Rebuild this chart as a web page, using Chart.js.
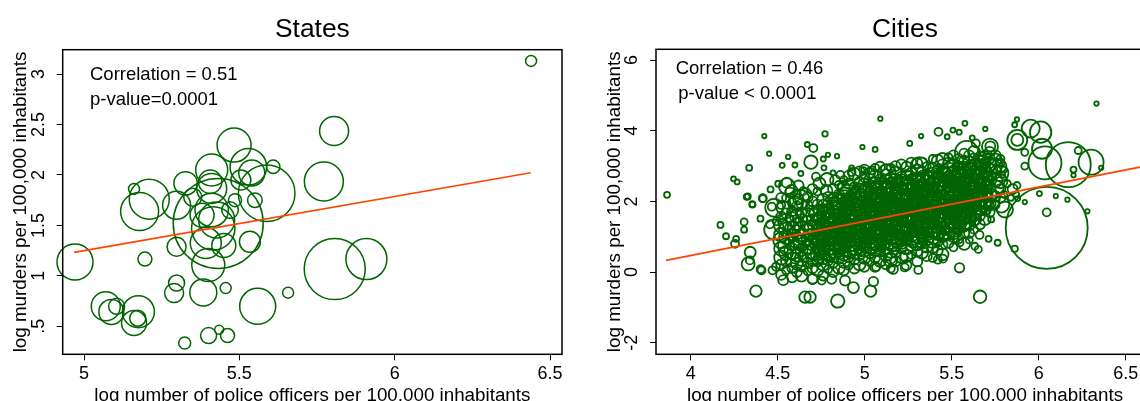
<!DOCTYPE html>
<html>
<head>
<meta charset="utf-8">
<script src="https://cdn.jsdelivr.net/npm/chart.js@4.4.0/dist/chart.umd.min.js"></script>
<style>
html, body { margin: 0; padding: 0; background: #fff; overflow: hidden; }
#wrap { position: relative; width: 1140px; height: 401px; overflow: hidden; }
#statesChart { position: absolute; left: 0; top: 0; }
#citiesChart { position: absolute; left: 570px; top: 0; }
</style>
</head>
<body>
<div id="wrap">
<canvas id="statesChart" width="570" height="401"></canvas>
<canvas id="citiesChart" width="600" height="401"></canvas>
</div>
<script>
// States panel: one bubble per state (x = log police, y = log murders, r = weight)
const stateX = [6.439, 5.805, 5.483, 5.772, 5.807, 5.909, 4.971, 5.559, 5.657, 5.456,
                5.384, 5.298, 5.290, 5.196, 5.298, 5.534, 5.400, 5.392, 5.432, 5.070,
                5.088, 5.105, 5.175, 5.161, 5.173, 5.324, 5.401, 5.435, 5.462, 5.161,
                5.179, 5.210, 5.298, 5.327, 5.411, 5.406, 5.529, 5.609, 5.588, 5.550,
                5.411, 5.427, 5.416, 5.486, 5.470, 5.411, 5.540, 5.505, 5.350, 5.380, 5.450];
const stateY = [3.13, 2.436, 2.296, 1.935, 1.067, 1.166, 1.137, 0.698, 0.833, 0.879,
                0.836, 0.929, 0.83, 1.166, 1.288, 1.338, 1.107, 1.325, 1.52, 0.698,
                0.642, 0.698, 0.645, 0.533, 0.58, 0.335, 0.408, 0.467, 0.408, 1.862,
                1.638, 1.760, 1.700, 1.917, 2.049, 1.933, 2.081, 2.081, 1.818, 1.750,
                1.652, 1.553, 1.471, 1.750, 1.652, 1.867, 2.020, 1.950, 1.780, 1.600, 1.300];
const stateR = [5.5, 14.5, 17, 19.5, 30.5, 20.5, 18, 18, 5.5, 5.5,
                13.5, 8, 9.5, 7, 9.5, 10.5, 16.5, 15.5, 45, 14.5,
                12.5, 8, 16, 12.5, 8, 6, 8, 4.5, 7, 5.5,
                19, 20, 14, 11.7, 16, 11.7, 18.3, 6.7, 28.3, 7.3,
                16.7, 18, 21.7, 6.5, 8.3, 15, 13, 10, 9, 12, 12];
const stateFitX = [4.968, 6.438];
const stateFitY = [1.233, 2.022];
const stateXTicks = [5, 5.5, 6, 6.5];
const stateXLabels = ['5', '5.5', '6', '6.5'];
const stateYTicks = [0.5, 1, 1.5, 2, 2.5, 3];
const stateYLabels = ['.5', '1', '1.5', '2', '2.5', '3'];

// Cities panel: scattered cities read one by one
const cityX = [3.864, 4.171, 4.203, 4.261, 4.255, 4.246, 4.267, 4.328, 4.355, 4.307,
               4.307, 4.336, 4.423, 4.451, 4.415, 4.459, 4.401, 4.342, 4.33, 4.375,
               4.407, 4.34, 4.402, 4.526, 4.56, 4.599, 4.633, 4.67, 4.705, 4.691,
               4.772, 4.762, 4.789, 4.841, 4.818, 4.766, 4.925, 4.925, 4.881, 4.783,
               4.657, 4.686, 4.845, 4.935, 5.034, 5.05, 5.545, 5.663, 4.987, 5.06,
               5.09, 5.04, 4.994, 5.259, 5.324, 5.424, 5.474, 5.507, 5.543, 5.576,
               5.693, 5.618, 5.639, 5.722, 5.875, 5.862, 5.877, 5.877, 5.954, 6.011,
               6.019, 6.036, 6.17, 6.301, 6.227, 6.2, 6.2, 6.332, 6.359, 6.046,
               6.046, 5.862, 6.28, 6.165, 6.098, 6.004, 5.92, 5.879, 5.875, 5.92,
               5.92, 5.806, 5.727, 5.764, 5.712, 5.66, 5.633, 5.653, 5.601, 5.548,
               5.42, 5.45, 5.308, 6.61, 4.887, 4.753, 4.701, 4.532, 4.81, 5.164,
               5.23, 5.065, 4.47, 4.49, 4.552, 4.571, 4.618, 4.647, 4.532, 4.466,
               4.414, 4.354, 4.322, 4.503, 4.456, 4.494, 4.571, 4.628, 5.586, 5.72,
               5.78, 5.8, 5.79, 5.82, 5.85, 5.87, 5.84, 5.8, 4.553, 4.626,
               4.48, 5.127, 4.96, 5.545, 5.712, 5.785, 5.597, 5.315, 5.148, 4.48,
               4.58, 4.62, 4.66, 4.70, 4.74, 4.60, 4.52, 4.78, 4.83, 4.86, 4.72];
const cityY = [2.185, 1.335, 1.014, 0.94, 0.80, 2.64, 2.55, 2.14, 1.91, 1.42,
               1.20, 2.95, 3.85, 3.35, 2.08, 2.34, 1.51, 0.56, 0.23, -0.54,
               0.05, 0.33, 0.08, 3.02, 3.26, 3.03, 2.79, 3.61, 3.51, 3.11,
               3.91, 3.2, 3.32, 3.28, 2.81, 2.95, 2.83, 2.95, 2.52, 2.62,
               -0.71, -0.71, -0.82, -0.44, -0.54, -0.27, 0.12, -0.70, 3.54, 3.47,
               4.34, 2.88, 2.9, 3.64, 3.85, 3.97, 3.83, 4.02, 3.96, 4.21,
               4.05, 3.80, 3.64, 3.56, 4.32, 4.17, 3.74, 3.74, 4.06, 3.96,
               3.49, 3.09, 3.04, 3.11, 3.44, 2.9, 2.74, 4.77, 2.95, 1.25,
               1.69, 0.66, 1.72, 2.05, 2.15, 2.22, 1.98, 2.08, 2.45, 3.0,
               3.39, 1.77, 1.49, 0.83, 0.94, 1.05, 0.73, 0.64, 0.91, 0.83,
               0.35, 0.38, 0.06, 2.47, -0.24, -0.24, -0.19, -0.23, -0.2, 0.08,
               0.13, 0.14, 0.05, 0.15, 2.53, 2.25, 2.06, 2.29, 1.82, 1.85,
               2.09, 1.92, 2.13, 2.5, 1.35, 1.44, 1.51, 1.63, 3.38, 3.55,
               3.1, 2.9, 2.75, 2.5, 2.35, 2.2, 2.1, 2.2, 2.43, 2.05,
               1.82, 2.8, 2.05, 1.58, 2.05, 1.91, 2.43, 3.0, 0.35, 1.2,
               2.3, 2.45, 2.2, 2.35, 2.5, 1.95, 2.1, 2.3, 2.6, 2.75, 2.7];
const cityR = [3, 3, 3, 3, 4, 2.5, 2.5, 3, 3, 3.5,
               3, 3, 2.2, 2.2, 3.5, 3, 3, 5.5, 6.5, 5.7,
               4, 4, 4, 2.5, 2.2, 2.5, 2.5, 2.5, 4, 6.7,
               2.7, 2.5, 2.2, 2.2, 2.5, 2.5, 4, 2.5, 2.5, 6.5,
               5.7, 5.7, 6.7, 5.5, 5.7, 4.7, 4.7, 6.3, 2.2, 2.5,
               2.2, 4, 2.5, 2.5, 2.2, 4, 2.5, 2.5, 2.5, 2.5,
               2.2, 2.5, 4, 5, 2.2, 2.5, 10, 6, 9, 10.7,
               10, 16.5, 22.5, 12.5, 3.5, 3, 2.2, 2.2, 2.2, 41,
               4, 3.2, 2.2, 2.2, 2.2, 2.5, 2.2, 2.5, 3.5, 3.5,
               3.5, 8, 3, 3, 3, 4, 3.5, 3.5, 3.5, 3.5,
               4, 4, 4, 4, 5, 4, 5, 5, 4.7, 4.7,
               4, 4, 4, 4, 5, 5, 5, 4, 6.7, 4,
               4, 3, 3, 3, 4, 4, 3.5, 4, 11.7, 8,
               4, 3, 3, 3.5, 5, 3, 3, 3.5, 8, 10,
               9, 9, 12, 16, 11, 8, 9, 9, 7, 10,
               6, 5, 6, 5, 6, 7, 5, 6, 5, 4, 4];

// Cities panel: the dense core, read column by column (x of column, y and r of its circles)
const cloudCols = [4.52, 4.548, 4.583, 4.61, 4.637, 4.672, 4.70, 4.728, 4.761, 4.79,
                   4.818, 4.852, 4.88, 4.907, 4.941, 4.97, 4.998, 5.031, 5.06, 5.088,
                   5.122, 5.15, 5.177, 5.211, 5.24, 5.268, 5.302, 5.33, 5.357, 5.391,
                   5.42, 5.447, 5.481, 5.51, 5.538, 5.572, 5.60, 5.628, 5.662, 5.69,
                   5.718, 5.752, 5.78,
                   4.735, 4.795, 4.855, 4.915, 4.975, 5.035, 5.095, 5.155, 5.215, 5.275,
                   5.335, 5.395, 5.455, 5.515, 5.575, 5.635, 5.695,
                   4.765, 4.825, 4.885, 4.945, 5.005, 5.065, 5.125, 5.185, 5.245, 5.305,
                   5.365, 5.425, 5.485, 5.545, 5.605, 5.665];
const cloudY = [
  [-0.08, 0.22, 0.41, 0.66, 0.9, 1.06, 1.31, 1.57, 1.9],
  [0.05, 0.3, 0.54, 0.73, 0.99, 1.2, 1.42, 1.66, 2.1],
  [-0.15, 0.12, 0.36, 0.58, 0.81, 1.03, 1.24, 1.5, 1.72, 1.98],
  [0.0, 0.24, 0.47, 0.71, 0.9, 1.13, 1.36, 1.58, 1.86, 2.2],
  [-0.1, 0.16, 0.37, 0.62, 0.83, 1.0, 1.23, 1.46, 1.69, 1.93],
  [0.02, 0.27, 0.51, 0.72, 0.94, 1.15, 1.39, 1.61, 1.88, 2.12],
  [-0.2, 0.11, 0.35, 0.57, 0.81, 1.03, 1.26, 1.47, 1.73, 2.0],
  [0.06, 0.3, 0.53, 0.76, 0.95, 1.19, 1.41, 1.64, 1.91, 2.28],
  [-0.1, 0.21, 0.42, 0.66, 0.88, 1.11, 1.33, 1.56, 1.79, 2.05],
  [0.08, 0.33, 0.55, 0.79, 1.0, 1.23, 1.45, 1.71, 1.95, 2.13],
  [0.0, 0.26, 0.48, 0.71, 0.93, 1.14, 1.38, 1.61, 1.84, 2.1, 2.36],
  [0.12, 0.37, 0.61, 0.82, 1.06, 1.28, 1.5, 1.73, 1.96, 2.2, 2.47],
  [0.05, 0.29, 0.52, 0.75, 0.97, 1.21, 1.43, 1.65, 1.89, 2.12, 2.38, 2.6],
  [0.18, 0.42, 0.66, 0.87, 1.11, 1.32, 1.56, 1.78, 2.01, 2.25, 2.5, 2.72],
  [0.1, 0.35, 0.57, 0.81, 1.02, 1.26, 1.48, 1.71, 1.92, 2.16, 2.4, 2.78],
  [0.22, 0.47, 0.7, 0.93, 1.15, 1.37, 1.6, 1.83, 2.05, 2.31, 2.55, 2.85],
  [0.15, 0.4, 0.63, 0.85, 1.08, 1.31, 1.52, 1.76, 1.98, 2.21, 2.45, 2.69, 2.9],
  [0.28, 0.53, 0.75, 0.98, 1.21, 1.42, 1.66, 1.88, 2.11, 2.35, 2.6, 2.81],
  [0.15, 0.41, 0.65, 0.87, 1.1, 1.33, 1.55, 1.78, 2.01, 2.22, 2.48, 2.72, 2.95],
  [0.32, 0.57, 0.8, 1.03, 1.25, 1.47, 1.71, 1.92, 2.16, 2.38, 2.62, 2.98],
  [0.22, 0.48, 0.71, 0.95, 1.18, 1.41, 1.62, 1.86, 2.08, 2.31, 2.55, 2.77, 2.9],
  [0.1, 0.38, 0.63, 0.85, 1.07, 1.3, 1.53, 1.75, 1.99, 2.2, 2.43, 2.68, 2.95],
  [0.3, 0.55, 0.79, 1.0, 1.23, 1.45, 1.67, 1.9, 2.13, 2.35, 2.59, 2.82, 3.0],
  [0.42, 0.67, 0.9, 1.13, 1.35, 1.57, 1.8, 2.03, 2.25, 2.47, 2.7, 3.05],
  [0.2, 0.45, 0.7, 0.92, 1.16, 1.38, 1.6, 1.83, 2.05, 2.28, 2.51, 2.75, 2.98],
  [0.48, 0.74, 0.98, 1.21, 1.42, 1.65, 1.87, 2.1, 2.33, 2.55, 2.78, 3.1],
  [0.3, 0.58, 0.81, 1.05, 1.28, 1.5, 1.73, 1.95, 2.17, 2.4, 2.63, 2.88, 3.08],
  [0.55, 0.8, 1.03, 1.25, 1.47, 1.7, 1.93, 2.15, 2.38, 2.6, 2.84, 3.1],
  [0.45, 0.72, 0.95, 1.17, 1.4, 1.63, 1.85, 2.07, 2.3, 2.53, 2.75, 3.0],
  [0.4, 0.68, 0.91, 1.15, 1.38, 1.6, 1.83, 2.05, 2.27, 2.5, 2.73, 2.95, 3.2],
  [0.62, 0.87, 1.1, 1.33, 1.55, 1.77, 2.0, 2.23, 2.45, 2.67, 2.9, 3.15],
  [0.5, 0.78, 1.02, 1.25, 1.47, 1.7, 1.93, 2.15, 2.37, 2.6, 2.83, 3.05, 3.2],
  [0.82, 1.07, 1.3, 1.53, 1.75, 1.97, 2.2, 2.43, 2.65, 2.87, 3.1, 3.25],
  [0.7, 0.98, 1.22, 1.45, 1.67, 1.9, 2.13, 2.35, 2.57, 2.8, 3.03, 3.3],
  [0.95, 1.2, 1.43, 1.65, 1.87, 2.1, 2.33, 2.55, 2.77, 3.0, 3.2],
  [0.8, 1.1, 1.35, 1.57, 1.8, 2.03, 2.25, 2.47, 2.7, 2.93, 3.15, 3.35],
  [1.1, 1.35, 1.58, 1.8, 2.03, 2.25, 2.47, 2.7, 2.92, 3.12, 3.3],
  [1.2, 1.45, 1.67, 1.9, 2.13, 2.35, 2.57, 2.8, 3.03, 3.22, 3.4],
  [1.35, 1.6, 1.83, 2.05, 2.27, 2.5, 2.73, 2.95, 3.15, 3.3],
  [1.5, 1.75, 1.97, 2.2, 2.43, 2.65, 2.87, 3.08, 3.25],
  [1.7, 1.95, 2.18, 2.4, 2.63, 2.85, 3.05, 3.22, 3.4],
  [1.9, 2.15, 2.37, 2.6, 2.83, 3.02, 3.18, 3.3],
  [2.1, 2.35, 2.57, 2.8, 3.0, 3.2],
  [0.4, 0.64, 0.86, 1.07, 1.3, 1.52, 1.76],
  [0.45, 0.68, 0.9, 1.12, 1.34, 1.57, 1.8],
  [0.5, 0.72, 0.95, 1.17, 1.39, 1.62, 1.84, 2.08],
  [0.55, 0.78, 1.0, 1.22, 1.44, 1.66, 1.9, 2.13],
  [0.6, 0.82, 1.04, 1.27, 1.49, 1.71, 1.94, 2.18],
  [0.66, 0.88, 1.1, 1.32, 1.54, 1.77, 2.0, 2.22, 2.46],
  [0.7, 0.92, 1.15, 1.37, 1.6, 1.82, 2.04, 2.27, 2.5],
  [0.75, 0.98, 1.2, 1.42, 1.65, 1.87, 2.1, 2.32, 2.55],
  [0.8, 1.02, 1.25, 1.47, 1.7, 1.92, 2.14, 2.37, 2.6],
  [0.86, 1.08, 1.3, 1.52, 1.75, 1.97, 2.2, 2.42, 2.65],
  [0.9, 1.13, 1.35, 1.58, 1.8, 2.02, 2.25, 2.47, 2.7],
  [0.96, 1.18, 1.4, 1.63, 1.85, 2.08, 2.3, 2.52, 2.75],
  [1.02, 1.24, 1.46, 1.68, 1.9, 2.13, 2.35, 2.58, 2.8],
  [1.1, 1.32, 1.54, 1.76, 1.98, 2.2, 2.43, 2.65, 2.88],
  [1.3, 1.52, 1.74, 1.96, 2.18, 2.4, 2.62, 2.85],
  [1.5, 1.72, 1.94, 2.16, 2.38, 2.6, 2.82, 3.05],
  [1.75, 1.97, 2.2, 2.42, 2.64, 2.86, 3.08],
  [0.53, 0.76, 0.98, 1.2, 1.42, 1.65, 1.88],
  [0.58, 0.8, 1.03, 1.25, 1.47, 1.7, 1.93],
  [0.62, 0.85, 1.07, 1.3, 1.52, 1.74, 1.97, 2.2],
  [0.67, 0.9, 1.12, 1.35, 1.57, 1.8, 2.02, 2.25],
  [0.74, 0.97, 1.2, 1.42, 1.65, 1.87, 2.1, 2.33],
  [0.8, 1.03, 1.26, 1.48, 1.71, 1.93, 2.16, 2.38],
  [0.86, 1.09, 1.31, 1.53, 1.76, 1.98, 2.21, 2.43],
  [0.91, 1.14, 1.36, 1.59, 1.81, 2.04, 2.26, 2.49],
  [0.97, 1.2, 1.42, 1.64, 1.87, 2.09, 2.32, 2.54],
  [1.02, 1.25, 1.47, 1.7, 1.92, 2.15, 2.37, 2.6],
  [1.08, 1.3, 1.53, 1.75, 1.98, 2.2, 2.42, 2.65],
  [1.14, 1.36, 1.59, 1.81, 2.03, 2.26, 2.48, 2.7],
  [1.2, 1.42, 1.65, 1.87, 2.09, 2.32, 2.54, 2.77],
  [1.38, 1.6, 1.82, 2.05, 2.27, 2.5, 2.72, 2.94],
  [1.58, 1.8, 2.03, 2.25, 2.48, 2.7, 2.92],
  [1.8, 2.02, 2.25, 2.47, 2.7, 2.92, 3.12]
];
const cloudR = [
  [5, 5, 7, 7, 8, 7, 7, 5, 4],
  [4, 5, 7, 8, 7, 7, 8, 5, 4],
  [5, 5, 7, 8, 7, 6, 7, 7, 5, 4],
  [5, 6, 6, 7, 8, 7, 6, 7, 5, 4],
  [6, 5, 7, 6, 8, 7, 7, 6, 5, 5],
  [4, 5, 8, 7, 6, 8, 7, 7, 5, 5],
  [5, 5, 6, 8, 7, 7, 8, 6, 5, 5],
  [6, 5, 7, 7, 8, 6, 7, 8, 5, 4],
  [5, 6, 7, 6, 7, 8, 7, 6, 5, 6],
  [4, 5, 8, 7, 7, 6, 8, 7, 5, 5],
  [5, 5, 7, 8, 6, 7, 8, 7, 7, 5, 5],
  [6, 5, 6, 7, 8, 7, 6, 7, 8, 5, 4],
  [5, 6, 7, 6, 7, 8, 7, 6, 7, 7, 6, 4],
  [4, 5, 8, 7, 6, 7, 8, 7, 6, 8, 5, 5],
  [5, 5, 7, 8, 7, 6, 7, 8, 7, 6, 5, 6],
  [6, 5, 6, 7, 8, 7, 6, 7, 8, 7, 5, 5],
  [5, 6, 7, 6, 7, 8, 7, 6, 7, 8, 7, 5, 5],
  [4, 5, 8, 7, 6, 7, 8, 7, 6, 7, 6, 5],
  [5, 5, 7, 8, 7, 6, 7, 8, 7, 6, 7, 6, 4],
  [6, 5, 6, 7, 8, 7, 6, 7, 8, 7, 5, 5],
  [5, 6, 7, 6, 7, 8, 7, 6, 7, 8, 7, 5, 5],
  [4, 5, 8, 7, 6, 7, 8, 7, 6, 7, 8, 5, 4],
  [5, 5, 7, 8, 7, 6, 7, 8, 7, 6, 7, 6, 5],
  [6, 5, 6, 7, 8, 7, 6, 7, 8, 7, 5, 5],
  [5, 6, 7, 6, 7, 8, 7, 6, 7, 8, 7, 5, 5],
  [4, 5, 8, 7, 6, 7, 8, 7, 6, 7, 6, 5],
  [5, 5, 7, 8, 7, 6, 7, 8, 7, 6, 7, 6, 5],
  [6, 5, 6, 7, 8, 7, 6, 7, 8, 7, 5, 5],
  [5, 6, 7, 6, 7, 8, 7, 6, 7, 8, 5, 4],
  [4, 5, 8, 7, 6, 7, 8, 7, 6, 7, 8, 5, 4],
  [5, 5, 7, 8, 7, 6, 7, 8, 7, 6, 5, 6],
  [6, 5, 6, 7, 8, 7, 6, 7, 8, 7, 6, 5, 6],
  [5, 6, 7, 6, 7, 8, 7, 6, 7, 8, 5, 4],
  [4, 5, 8, 7, 6, 7, 8, 7, 6, 7, 6, 5],
  [5, 5, 7, 8, 7, 6, 7, 8, 7, 5, 5],
  [6, 5, 6, 7, 8, 7, 6, 7, 8, 7, 5, 5],
  [5, 6, 7, 6, 7, 8, 7, 6, 7, 6, 5],
  [4, 5, 8, 7, 6, 7, 8, 7, 6, 5, 6],
  [5, 5, 7, 8, 7, 6, 7, 8, 5, 4],
  [6, 5, 6, 7, 8, 7, 6, 5, 6],
  [5, 6, 7, 6, 7, 8, 7, 5, 5],
  [4, 5, 8, 7, 6, 7, 6, 5],
  [5, 5, 7, 8, 6, 4],
  [5, 6, 7, 6, 7, 6, 5],
  [6, 7, 6, 7, 6, 7, 5],
  [5, 6, 7, 6, 7, 6, 7, 5],
  [6, 7, 6, 7, 6, 7, 6, 5],
  [5, 6, 7, 6, 7, 6, 7, 6],
  [6, 7, 6, 7, 6, 7, 6, 7, 5],
  [5, 6, 7, 6, 7, 6, 7, 6, 6],
  [6, 7, 6, 7, 6, 7, 6, 7, 5],
  [5, 6, 7, 6, 7, 6, 7, 6, 6],
  [6, 7, 6, 7, 6, 7, 6, 7, 5],
  [5, 6, 7, 6, 7, 6, 7, 6, 6],
  [6, 7, 6, 7, 6, 7, 6, 7, 5],
  [5, 6, 7, 6, 7, 6, 7, 6, 6],
  [6, 7, 6, 7, 6, 7, 6, 7, 5],
  [5, 6, 7, 6, 7, 6, 7, 6],
  [6, 7, 6, 7, 6, 7, 6, 5],
  [5, 6, 7, 6, 7, 6, 5],
  [6, 7, 6, 7, 6, 7, 6],
  [7, 6, 7, 6, 7, 6, 7],
  [6, 7, 6, 7, 6, 7, 6, 7],
  [7, 6, 7, 6, 7, 6, 7, 6],
  [6, 7, 6, 7, 6, 7, 6, 7],
  [7, 6, 7, 6, 7, 6, 7, 6],
  [6, 7, 6, 7, 6, 7, 6, 7],
  [7, 6, 7, 6, 7, 6, 7, 6],
  [6, 7, 6, 7, 6, 7, 6, 7],
  [7, 6, 7, 6, 7, 6, 7, 6],
  [6, 7, 6, 7, 6, 7, 6, 7],
  [7, 6, 7, 6, 7, 6, 7, 6],
  [6, 7, 6, 7, 6, 7, 6, 7],
  [7, 6, 7, 6, 7, 6, 7, 6],
  [6, 7, 6, 7, 6, 7, 6],
  [7, 6, 7, 6, 7, 6, 7]
];
const cityFitX = [3.858, 6.64];
const cityFitY = [0.331, 3.027];
const cityXTicks = [4, 4.5, 5, 5.5, 6, 6.5];
const cityXLabels = ['4', '4.5', '5', '5.5', '6', '6.5'];
const cityYTicks = [-2, 0, 2, 4, 6];
const cityYLabels = ['-2', '0', '2', '4', '6'];

const FAMILY = '"Liberation Sans", Arial, Helvetica, sans-serif';
const GREEN = '#006400';
const FIT = '#ff4500';

function font(px) {
    return px + 'px ' + FAMILY;
}

// Draws the Stata-like frame, tick labels, titles and annotation
function framePlugin(cfg) {
    return {
        id: 'frame',
        afterDraw(chart) {
            const { ctx, chartArea: a } = chart;
            const sx = chart.scales.x, sy = chart.scales.y;
            ctx.save();
            ctx.strokeStyle = '#000';
            ctx.lineWidth = 1.5;
            ctx.strokeRect(a.left, a.top, a.right - a.left, a.bottom - a.top);
            ctx.fillStyle = '#000';

            // panel title
            ctx.font = font(26.4);
            ctx.textAlign = 'center';
            ctx.textBaseline = 'alphabetic';
            ctx.fillText(cfg.title, (a.left + a.right) / 2, a.top - cfg.titleGap);

            // x tick labels
            ctx.font = font(18);
            ctx.textBaseline = 'middle';
            cfg.xTicks.forEach((v, i) => {
                ctx.fillText(cfg.xLabels[i], sx.getPixelForValue(v), a.bottom + 20);
            });

            // y tick labels, rotated like Stata
            cfg.yTicks.forEach((v, i) => {
                ctx.save();
                ctx.translate(a.left - 23.5, sy.getPixelForValue(v));
                ctx.rotate(-Math.PI / 2);
                ctx.fillText(cfg.yLabels[i], 0, 0);
                ctx.restore();
            });

            // axis titles
            ctx.font = font(18.8);
            ctx.textBaseline = 'alphabetic';
            ctx.fillText('log number of police officers per 100,000 inhabitants', (a.left + a.right) / 2, a.bottom + 46.5);
            ctx.save();
            ctx.translate(a.left - 36.5, (a.top + a.bottom) / 2);
            ctx.rotate(-Math.PI / 2);
            ctx.fillText('log murders per 100,000 inhabitants', 0, 0);
            ctx.restore();

            // correlation note
            ctx.font = font(18.5);
            ctx.textAlign = 'left';
            cfg.notes.forEach(n => ctx.fillText(n.text, a.left + n.dx, a.top + n.dy));
            ctx.restore();
        }
    };
}

function makeChart(id, cfg) {
    const points = cfg.x.map((v, i) => ({ x: v, y: cfg.y[i], r: cfg.r[i] }));
    const fit = cfg.fitX.map((v, i) => ({ x: v, y: cfg.fitY[i] }));
    const axis = (min, max, ticks) => ({
        type: 'linear',
        min: min,
        max: max,
        afterBuildTicks: scale => { scale.ticks = ticks.map(v => ({ value: v })); },
        ticks: { display: false },
        grid: { drawOnChartArea: false, drawTicks: true, tickLength: 6, color: '#000', tickColor: '#000', lineWidth: 1 },
        border: { display: false }
    });
    return new Chart(document.getElementById(id), {
        type: 'bubble',
        data: {
            datasets: [{
                type: 'line',
                data: fit,
                borderColor: FIT,
                borderWidth: 1.7,
                pointRadius: 0,
                fill: false,
                order: 0
            }, {
                type: 'bubble',
                data: points,
                borderColor: GREEN,
                backgroundColor: 'rgba(0,0,0,0)',
                borderWidth: cfg.ring,
                clip: false,
                order: 1
            }]
        },
        options: {
            responsive: false,
            animation: false,
            events: [],
            layout: { autoPadding: false, padding: cfg.padding },
            plugins: { legend: { display: false }, tooltip: { enabled: false } },
            scales: {
                x: axis(cfg.xMin, cfg.xMax, cfg.xTicks),
                y: axis(cfg.yMin, cfg.yMax, cfg.yTicks)
            }
        },
        plugins: [framePlugin(cfg)]
    });
}

makeChart('statesChart', {
    title: 'States', titleGap: 12.4, ring: 1.5,
    x: stateX, y: stateY, r: stateR,
    fitX: stateFitX, fitY: stateFitY,
    xMin: 4.9314, xMax: 6.5386, yMin: 0.2225, yMax: 3.2415,
    xTicks: stateXTicks, xLabels: stateXLabels,
    yTicks: stateYTicks, yLabels: stateYLabels,
    padding: { left: 56.7, right: 8, top: 49.7, bottom: 40.7 },
    notes: [{ text: 'Correlation = 0.51', dx: 27.3, dy: 30.3 },
            { text: 'p-value=0.0001', dx: 27.3, dy: 54.8 }]
});

// flatten the dense core into the city list
const allCityX = cityX.slice(), allCityY = cityY.slice(), allCityR = cityR.slice();
cloudCols.forEach((cx, c) => {
    cloudY[c].forEach((cy, k) => {
        allCityX.push(cx);
        allCityY.push(cy);
        allCityR.push(cloudR[c][k]);
    });
});

makeChart('citiesChart', {
    title: 'Cities', titleGap: 12, ring: 1.8,
    x: allCityX, y: allCityY, r: allCityR,
    fitX: cityFitX, fitY: cityFitY,
    xMin: 3.8006, xMax: 6.6626, yMin: -2.328, yMax: 6.305,
    xTicks: cityXTicks, xLabels: cityXLabels,
    yTicks: cityYTicks, yLabels: cityYLabels,
    padding: { left: 80, right: 16, top: 49.3, bottom: 40.7 },
    notes: [{ text: 'Correlation = 0.46', dx: 19.7, dy: 24.7 },
            { text: 'p-value < 0.0001', dx: 22.3, dy: 50 }]
});
</script>
</body>
</html>
